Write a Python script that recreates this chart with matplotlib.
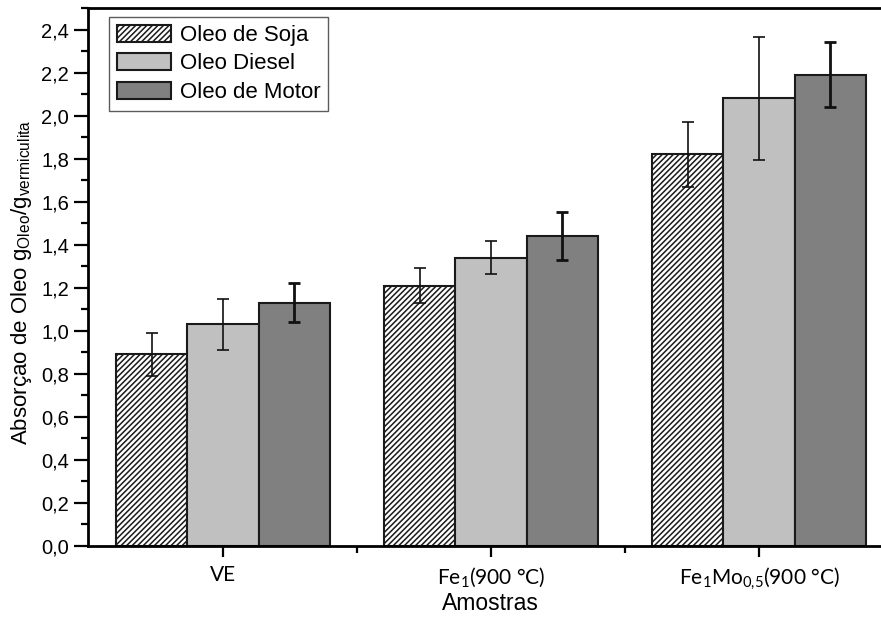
import matplotlib
matplotlib.use("Agg")
import matplotlib.pyplot as plt
import numpy as np
from matplotlib.ticker import MultipleLocator, FixedLocator

plt.rcParams['font.family'] = ['Liberation Sans', 'DejaVu Sans']
plt.rcParams['hatch.linewidth'] = 1.1
plt.rcParams['hatch.color'] = '#2a2a2a'

categories = ['VE', r'Fe$\mathregular{_1}$(900 °C)', r'Fe$\mathregular{_1}$Mo$\mathregular{_{0{,}5}}$(900 °C)']
series = ['Oleo de Soja', 'Oleo Diesel', 'Oleo de Motor']
soja = [0.89, 1.21, 1.82]
soja_err = [0.10, 0.08, 0.15]
diesel = [1.03, 1.34, 2.08]
diesel_err = [0.12, 0.075, 0.285]
motor = [1.13, 1.44, 2.19]
motor_err = [0.09, 0.11, 0.15]

fig = plt.figure(figsize=(8.81, 6.17), dpi=100)
ax = fig.add_axes([88 / 881, (617 - 546) / 617, (893 - 88) / 881, (546 - 8) / 617])

x = np.arange(len(categories))
w = 0.266
styles = [
    dict(facecolor='white', hatch='//////', edgecolor='#1a1a1a'),
    dict(facecolor='#c0c0c0', edgecolor='#1a1a1a'),
    dict(facecolor='#808080', edgecolor='#1a1a1a'),
]
values = [soja, diesel, motor]
errors = [soja_err, diesel_err, motor_err]
err_lw = [1.2, 1.2, 2.0]
for i, (vals, errs, st, name) in enumerate(zip(values, errors, styles, series)):
    pos = x + (i - 1) * w
    ax.bar(pos, vals, width=w, linewidth=1.5, label=name, zorder=2, **st)
    ax.errorbar(pos, vals, yerr=errs, fmt='none', ecolor='#111111',
                elinewidth=err_lw[i], capsize=4.3, capthick=err_lw[i], zorder=3)

ax.set_xlim(-0.504, 2.5)
ax.set_ylim(0, 2.5)
yt = np.arange(0, 2.41, 0.2)
ax.yaxis.set_major_locator(FixedLocator(yt))
ax.yaxis.set_minor_locator(MultipleLocator(0.1))
ax.set_yticklabels([f'{v:.1f}'.replace('.', ',') for v in yt])
ax.set_xticks(x)
ax.set_xticklabels(categories, fontsize=15, family=['Lato', 'DejaVu Sans'])
ax.xaxis.set_minor_locator(FixedLocator([0.5, 1.5]))

ax.tick_params(axis='y', which='major', direction='out', length=10, width=1.6,
               pad=3.6, labelsize=14.5)
ax.tick_params(axis='y', which='minor', direction='out', length=5, width=1.6)
ax.tick_params(axis='x', which='major', direction='out', length=8, width=1.6, pad=6)
ax.tick_params(axis='x', which='minor', direction='out', length=5, width=1.6)
for sp in ax.spines.values():
    sp.set_linewidth(2.0)

ax.set_xlabel('Amostras', fontsize=16.5)
ax.xaxis.set_label_coords(0.5, (546 - 604) / 538)
ax.xaxis.label.set_va('center')
ax.set_ylabel(r'Absorçao de Oleo g$\mathregular{_{Oleo}}$/g$\mathregular{_{vermiculita}}$', fontsize=16)
ax.yaxis.set_label_coords((22 - 88) / 805, (546 - 282) / 538)
ax.yaxis.label.set_va('center')

leg = ax.legend(loc='upper left', bbox_to_anchor=(0.026, 0.983), fontsize=16,
                frameon=True, fancybox=False, edgecolor='#333333',
                handlelength=2.45, handleheight=0.8, labelspacing=0.32,
                handletextpad=0.4, borderpad=0.35, borderaxespad=0)
leg.get_frame().set_linewidth(1.0)

fig.savefig('out.png', dpi=100)
